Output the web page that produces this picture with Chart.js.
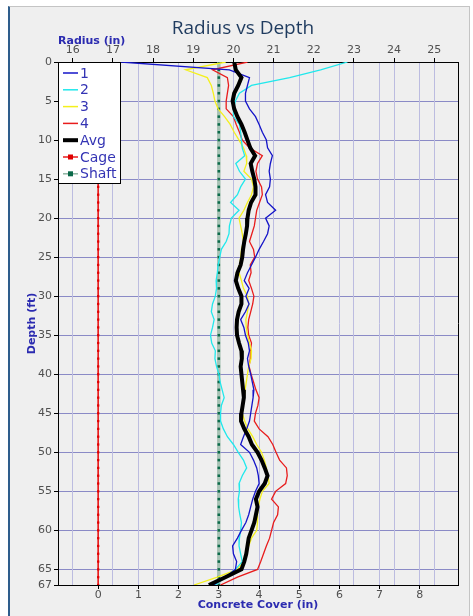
<!DOCTYPE html>
<html>
<head>
<meta charset="utf-8">
<script src="https://cdn.jsdelivr.net/npm/chart.js@4"></script>
<style>
  body { margin: 0; background: #fff; }
  #frame { position: absolute; left: 8px; top: 6px; width: 459px; height: 620px;
           background: #efefef; border-left: 2px solid #2e5d8c;
           border-top: 1px solid #c4c4c4; border-right: 1px solid #c4c4c4; }
  #radiusChart { position: absolute; left: 0; top: 0; }
</style>
</head>
<body>
<div id="frame"></div>
<canvas id="radiusChart" width="473" height="616"></canvas>
<script>
// Depth (ft) of each reading
var depths = [0, 1, 2, 3, 4, 5, 6, 7, 8, 9,
    10, 11, 12, 13, 14, 15, 16, 17, 18, 19,
    20, 21, 22, 23, 24, 25, 26, 27, 28, 29,
    30, 31, 32, 33, 34, 35, 36, 37, 38, 39,
    40, 41, 42, 43, 44, 45, 46, 47, 48, 49,
    50, 51, 52, 53, 54, 55, 56, 57, 58, 59,
    60, 61, 62, 63, 64, 65, 66, 67];

// Radius (in) per profile
var radius1 = [17.2, 19.9, 20.4, 20.35, 20.3, 20.3, 20.4, 20.55, 20.64, 20.72,
    20.82, 20.85, 20.97, 20.92, 20.89, 20.92, 20.9, 20.8, 20.85, 21.05,
    20.8, 20.89, 20.85, 20.75, 20.64, 20.55, 20.45, 20.35, 20.27, 20.39,
    20.31, 20.39, 20.3, 20.18, 20.26, 20.3, 20.37, 20.4, 20.35, 20.38,
    20.43, 20.47, 20.51, 20.49, 20.46, 20.43, 20.4, 20.33, 20.25, 20.18,
    20.4, 20.5, 20.58, 20.62, 20.64, 20.55, 20.48, 20.43, 20.38, 20.31,
    20.2, 20.1, 19.98, 20.0, 20.08, 20.05, 19.8, 19.5];
var radius2 = [22.84, 22.17, 21.4, 20.45, 20.15, 20.05, 20.0, 20.0, 20.15, 20.18,
    20.2, 20.22, 20.28, 20.06, 20.15, 20.3, 20.18, 20.1, 19.93, 20.14,
    19.95, 19.9, 19.89, 19.82, 19.7, 19.66, 19.62, 19.6, 19.57, 19.58,
    19.55, 19.48, 19.45, 19.52, 19.48, 19.43, 19.46, 19.55, 19.54, 19.58,
    19.64, 19.67, 19.72, 19.77, 19.7, 19.68, 19.68, 19.75, 19.85, 20.0,
    20.12, 20.25, 20.33, 20.22, 20.14, 20.15, 20.12, 20.13, 20.16, 20.2,
    20.18, 20.15, 20.14, 20.18, 20.22, 20.05, 19.8, 19.55];
var radius3 = [19.81, 18.81, 19.35, 19.45, 19.5, 19.54, 19.62, 19.78, 19.92, 20.02,
    20.14, 20.25, 20.32, 20.33, 20.26, 20.45, 20.5, 20.45, 20.35, 20.26,
    20.14, 20.18, 20.22, 20.25, 20.2, 20.18, 20.16, 20.14, 20.2, 20.25,
    20.35, 20.38, 20.35, 20.31, 20.32, 20.35, 20.4, 20.45, 20.44, 20.38,
    20.35, 20.32, 20.29, 20.27, 20.24, 20.22, 20.28, 20.36, 20.48, 20.58,
    20.7, 20.77, 20.82, 20.86, 20.89, 20.72, 20.66, 20.62, 20.6, 20.6,
    20.58, 20.45, 20.38, 20.32, 20.26, 20.1, 19.6, 19.02];
var radius4 = [20.35, 19.48, 19.85, 19.88, 19.85, 19.82, 19.82, 20.0, 20.07, 20.15,
    20.22, 20.4, 20.72, 20.6, 20.56, 20.6, 20.7, 20.72, 20.65, 20.58,
    20.55, 20.52, 20.46, 20.4, 20.5, 20.53, 20.42, 20.44, 20.38, 20.45,
    20.51, 20.48, 20.43, 20.38, 20.36, 20.38, 20.45, 20.42, 20.42, 20.39,
    20.44, 20.5, 20.56, 20.64, 20.61, 20.55, 20.52, 20.64, 20.86, 20.98,
    21.06, 21.15, 21.32, 21.34, 21.3, 21.05, 20.95, 21.12, 21.1, 21.0,
    20.95, 20.9, 20.82, 20.75, 20.68, 20.6, 20.1, 19.68];
var radiusAvg = [20.02, 20.06, 20.2, 20.12, 20.02, 19.98, 20.02, 20.1, 20.2, 20.28,
    20.35, 20.42, 20.54, 20.43, 20.47, 20.52, 20.55, 20.55, 20.44, 20.38,
    20.35, 20.34, 20.31, 20.27, 20.24, 20.22, 20.18, 20.1, 20.06, 20.12,
    20.2, 20.2, 20.13, 20.09, 20.08, 20.09, 20.14, 20.2, 20.21, 20.18,
    20.2, 20.22, 20.24, 20.26, 20.23, 20.2, 20.19, 20.27, 20.38, 20.46,
    20.6, 20.7, 20.78, 20.85, 20.78, 20.64, 20.56, 20.6, 20.56, 20.52,
    20.45, 20.38, 20.35, 20.32, 20.27, 20.2, 19.8, 19.39];

// Concrete cover (in) of cage and shaft
var cageCover = 0;
var shaftCover = 3;

// Tick labels
var depthTicks = [0, 5, 10, 15, 20, 25, 30, 35, 40, 45, 50, 55, 60, 65, 67];
var coverTicks = [0, 1, 2, 3, 4, 5, 6, 7, 8];
var radiusTicks = [16, 17, 18, 19, 20, 21, 22, 23, 24, 25];

function toPoints(values) {
    return values.map(function (v, i) { return { x: v, y: depths[i] }; });
}
function constPoints(v) {
    return depths.map(function (d) { return { x: v, y: d }; });
}
function setTicks(list) {
    return function (scale) { scale.ticks = list.map(function (v) { return { value: v }; }); };
}

Chart.defaults.font.family = 'DejaVu Sans';
Chart.defaults.font.size = 11;
Chart.defaults.color = '#505050';

var axisTitleFont = { family: 'DejaVu Sans', size: 11, weight: 'bold' };
var axisTitleColor = '#2b2bb0';

// Legend box drawn inside the plot, top-left
var boxLegend = {
    id: 'boxLegend',
    afterDraw: function (chart) {
        var ctx = chart.ctx, a = chart.chartArea;
        var x = a.left, y = a.top;
        ctx.save();
        // right border of the plot
        ctx.strokeStyle = '#000';
        ctx.lineWidth = 1;
        ctx.beginPath();
        ctx.moveTo(a.right + 0.5, a.top);
        ctx.lineTo(a.right + 0.5, a.bottom);
        ctx.stroke();

        ctx.fillStyle = '#fff';
        ctx.fillRect(x, y, 62, 121);
        ctx.strokeRect(x + 0.5, y + 0.5, 62, 121);
        ctx.font = '14px DejaVu Sans';
        ctx.textBaseline = 'middle';
        chart.data.datasets.forEach(function (ds, i) {
            var ly = y + 11 + i * 16.8;
            ctx.strokeStyle = ds.legendLine || ds.borderColor;
            ctx.lineWidth = ds.label === 'Avg' ? 4 : 1.5;
            ctx.beginPath();
            ctx.moveTo(x + 5, ly);
            ctx.lineTo(x + 20, ly);
            ctx.stroke();
            if (ds.pointRadius > 0) {
                ctx.fillStyle = ds.pointBackgroundColor;
                ctx.fillRect(x + 10, ly - 2.5, 5, 5);
            }
            ctx.fillStyle = '#3434b4';
            ctx.fillText(ds.label, x + 22, ly + 1);
        });
        ctx.restore();
    }
};

var ctx = document.getElementById('radiusChart').getContext('2d');
var radiusChart = new Chart(ctx, {
    type: 'scatter',
    data: {
        datasets: [
            { label: '1', data: toPoints(radius1), xAxisID: 'x2', borderColor: '#1414c8', borderWidth: 1.3, order: 1 },
            { label: '2', data: toPoints(radius2), xAxisID: 'x2', borderColor: '#20e8ec', borderWidth: 1.3, order: 1 },
            { label: '3', data: toPoints(radius3), xAxisID: 'x2', borderColor: '#f4f01c', borderWidth: 1.3, order: 1 },
            { label: '4', data: toPoints(radius4), xAxisID: 'x2', borderColor: '#e81c1c', borderWidth: 1.3, order: 1 },
            { label: 'Avg', data: toPoints(radiusAvg), xAxisID: 'x2', borderColor: '#000', borderWidth: 4, order: 0 },
            { label: 'Cage', data: constPoints(cageCover), xAxisID: 'x', borderColor: '#e81c1c', borderWidth: 1,
              pointRadius: 1.6, pointStyle: 'rect', pointBackgroundColor: '#e00000', pointBorderWidth: 0, order: 2 },
            { label: 'Shaft', data: constPoints(shaftCover), xAxisID: 'x', borderColor: '#a6c2b4', borderWidth: 3.5,
              pointRadius: 1.8, pointStyle: 'rect', pointBackgroundColor: '#0b6a4a', pointBorderWidth: 0, order: 2,
              legendLine: '#8fb4a2' }
        ].map(function (ds) {
            ds.showLine = true;
            if (ds.pointRadius === undefined) ds.pointRadius = 0;
            ds.pointHoverRadius = 0;
            return ds;
        })
    },
    options: {
        responsive: false,
        animation: false,
        layout: { padding: { left: 13, right: 0, top: 0, bottom: 0 } },
        plugins: {
            legend: { display: false },
            tooltip: { enabled: false },
            title: {
                display: true,
                text: 'Radius vs Depth',
                color: '#1f3b5f',
                font: { family: 'Open Sans', size: 19, weight: 'normal' },
                padding: { top: 17, bottom: -5 }
            }
        },
        scales: {
            y: {
                type: 'linear', position: 'left', reverse: true, min: 0, max: 67,
                afterBuildTicks: setTicks(depthTicks),
                afterFit: function (s) { s.width = 45; },
                ticks: { padding: 2, color: '#505050' },
                grid: { color: '#8a8ac6', tickColor: '#000', tickLength: 4 },
                border: { color: '#000' },
                title: { display: true, text: 'Depth (ft)', color: axisTitleColor, font: axisTitleFont,
                         padding: { top: 13, bottom: 0 } }
            },
            // empty spacer on the right side
            yRight: {
                type: 'linear', position: 'right', min: 0, max: 1,
                afterFit: function (s) { s.width = 15; },
                ticks: { display: false },
                grid: { display: false },
                border: { display: false }
            },
            x: {
                type: 'linear', position: 'bottom', min: -1.0, max: 8.95,
                afterBuildTicks: setTicks(coverTicks),
                afterFit: function (s) { s.height = 31; },
                ticks: { padding: 0, color: '#505050', maxRotation: 0 },
                grid: { color: '#bcbce0', tickColor: '#000', tickLength: 4 },
                border: { color: '#000' },
                title: { display: true, text: 'Concrete Cover (in)', color: axisTitleColor, font: axisTitleFont,
                         padding: { top: 0, bottom: 4 } }
            },
            x2: {
                type: 'linear', position: 'top', min: 15.634, max: 25.59,
                afterBuildTicks: setTicks(radiusTicks),
                afterFit: function (s) { s.height = 27.2; },
                ticks: { padding: 1, color: '#505050', maxRotation: 0 },
                grid: { color: '#bcbce0', tickColor: '#000', tickLength: 4 },
                border: { color: '#000' },
                title: { display: true, text: 'Radius (in)', color: axisTitleColor, font: axisTitleFont,
                         align: 'start', padding: { top: 0, bottom: 0 } }
            }
        }
    },
    plugins: [boxLegend]
});
</script>
</body>
</html>
